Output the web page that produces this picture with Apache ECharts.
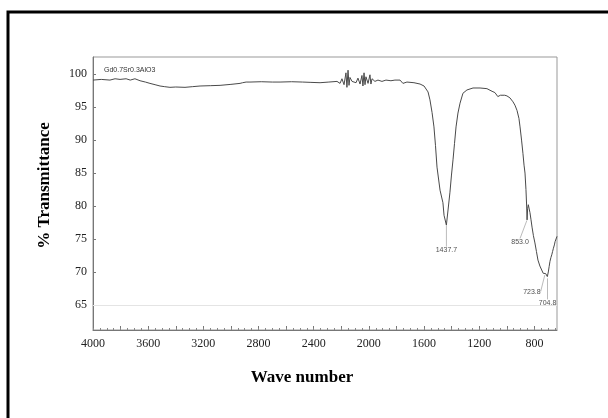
<!DOCTYPE html>
<html>
<head>
<meta charset="utf-8">
<title>IR spectrum</title>
<script src="https://cdn.jsdelivr.net/npm/echarts@6/dist/echarts.min.js"></script>
<style>
  html, body { margin: 0; padding: 0; background: #fff; }
  #chart { width: 608px; height: 418px; }
</style>
</head>
<body>
<div id="chart"></div>
<script>
  // spectrum: wave number (cm-1) / % transmittance
  var waveNumbers = [
    4000, 3940, 3877, 3840, 3804, 3760, 3730, 3696, 3659, 3620, 3587, 3550, 3514, 3480, 3442, 3400,
    3333, 3280, 3224, 3150, 3079, 3000, 2934, 2915, 2905, 2890, 2862, 2780, 2700, 2644, 2560, 2480,
    2420, 2354, 2290, 2231, 2224, 2209, 2195, 2180, 2166, 2159, 2151, 2144, 2137, 2122, 2108, 2093,
    2079, 2064, 2050, 2043, 2035, 2028, 2021, 2006, 1992, 1985, 1977, 1956, 1934, 1905, 1876, 1840,
    1811, 1774, 1760, 1753, 1745, 1724, 1673, 1629, 1600, 1586, 1571, 1557, 1542, 1528, 1517, 1506,
    1484, 1463, 1455, 1438, 1426, 1412, 1401, 1390, 1379, 1368, 1354, 1339, 1318, 1289, 1245, 1194,
    1144, 1107, 1086, 1065, 1057, 1046, 1035, 1015, 999, 977, 955, 941, 926, 912, 904, 893,
    883, 875, 868, 861, 856, 853, 849, 844, 838, 832, 825, 817, 807, 796, 785, 774,
    760, 747, 736, 730, 723.8, 718, 712, 706, 704.8, 702, 699, 693, 687, 680, 674, 668,
    662, 655, 650, 643, 636
  ];
  var transmittance = [
    99.1, 99.2, 99.1, 99.3, 99.2, 99.3, 99.1, 99.3, 99.0, 98.8, 98.6, 98.4, 98.2, 98.1, 98.0, 98.05,
    98.0, 98.1, 98.2, 98.25, 98.3, 98.45, 98.6, 98.7, 99.0, 98.8, 98.8, 98.85, 98.8, 98.8, 98.85, 98.8,
    98.75, 98.7, 98.8, 98.9, 99.0, 98.6, 99.3, 98.4, 100.2, 98.0, 100.6, 98.3, 99.5, 98.9, 99.2, 98.7,
    99.4, 98.5, 99.8, 98.2, 100.2, 98.4, 99.6, 98.6, 99.9, 98.5, 99.3, 98.9, 99.1, 98.9, 99.1, 99.0,
    99.1, 99.1, 98.95, 98.6, 98.8, 98.8, 98.7, 98.5, 98.2, 97.9, 97.3, 96.1, 94.2, 92.0, 89.2, 85.9,
    82.4, 80.5, 78.6, 77.1, 79.4, 82.1, 84.7, 87.0, 89.5, 92.0, 94.1, 95.6, 97.1, 97.6, 97.9, 97.9,
    97.8, 97.4, 97.2, 96.6, 96.4, 96.8, 96.8, 96.8, 96.7, 96.4, 95.8, 95.3, 94.5, 93.3, 92.0, 90.0,
    88.0, 86.2, 85.0, 82.5, 80.0, 77.9, 79.6, 80.2, 79.9, 79.0, 78.0, 76.8, 75.5, 74.4, 73.1, 71.8,
    70.9, 70.3, 69.8, 69.75, 69.6, 69.75, 69.7, 69.3, 69.1, 69.4, 70.0, 70.8, 71.6, 72.2, 72.6, 73.1,
    73.6, 74.1, 74.6, 75.0, 75.4
  ];

  var xTickLabels = [4000, 3600, 3200, 2800, 2400, 2000, 1600, 1200, 800];
  var yTickLabels = [65, 70, 75, 80, 85, 90, 95, 100];

  // picked peaks
  var peakNames = ['1437.7', '853.0', '723.8', '704.8'];
  var peakWave = [1437.7, 853.0, 723.8, 704.8];
  var peakValue = [77.1, 77.9, 69.6, 69.1];

  var sampleName = 'Gd0.7Sr0.3AlO3';

  var seriesData = waveNumbers.map(function (w, i) { return [w, transmittance[i]]; });
  var peakData = peakWave.map(function (w, i) { return { value: [w, peakValue[i]], name: peakNames[i] }; });

  // tick marks on the wave number axis
  var majorTicks = [], minorTicks = [];
  for (var t = 800; t <= 4000; t += 200) majorTicks.push(t);
  for (var m = 650; m <= 4000; m += 50) minorTicks.push(m);

  // where each peak label sits, relative to its point (px)
  var labelShift = [[0, 25], [-7, 22], [-13, 17], [0, 25]];

  var serif = 'Liberation Serif, Times New Roman, serif';

  var dom = echarts.init(document.getElementById('chart'));
  var option = {
    animation: false,
    backgroundColor: '#fff',
    title: {
      text: sampleName,
      left: 99,
      top: 62,
      textStyle: { fontSize: 7, fontWeight: 'normal', color: '#333', fontFamily: 'Arial, Liberation Sans, sans-serif' }
    },
    grid: {
      left: 93,
      right: 51,
      top: 57,
      bottom: 88,
      show: true,
      borderColor: '#999',
      borderWidth: 1
    },
    xAxis: [{
      type: 'value',
      inverse: true,
      min: 636,
      max: 4000,
      name: 'Wave number',
      nameLocation: 'middle',
      nameGap: 39,
      nameTextStyle: { fontFamily: serif, fontWeight: 'bold', fontSize: 17, color: '#000', padding: [0, 46, 0, 0] },
      axisLine: { lineStyle: { color: '#777', width: 1 } },
      axisTick: { customValues: majorTicks, inside: true, length: 4, lineStyle: { color: '#777' } },
      axisLabel: {
        customValues: xTickLabels,
        margin: 8,
        fontFamily: serif,
        fontSize: 12,
        color: '#222',
        formatter: function (v) { return String(v); }
      },
      splitLine: { show: false }
    }, {
      type: 'value',
      inverse: true,
      min: 636,
      max: 4000,
      position: 'bottom',
      axisLine: { show: false },
      axisTick: { customValues: minorTicks, inside: true, length: 2, lineStyle: { color: '#888' } },
      axisLabel: { show: false },
      splitLine: { show: false }
    }],
    yAxis: {
      type: 'value',
      min: 61.2,
      max: 102.6,
      name: '% Transmittance',
      nameLocation: 'middle',
      nameGap: 40,
      nameTextStyle: { fontFamily: serif, fontWeight: 'bold', fontSize: 17, color: '#000', padding: [0, 0, 0, 16] },
      axisLine: { show: true, lineStyle: { color: '#777', width: 1 } },
      axisTick: { customValues: yTickLabels, inside: true, length: 3, lineStyle: { color: '#777' } },
      axisLabel: {
        customValues: yTickLabels,
        margin: 6,
        fontFamily: serif,
        fontSize: 12,
        color: '#222',
        formatter: function (v) { return String(v); }
      },
      splitLine: { show: false }
    },
    series: [{
      name: 'spectrum',
      type: 'line',
      data: seriesData,
      showSymbol: false,
      symbol: 'none',
      lineStyle: { color: '#4a4a4a', width: 1 },
      markLine: {
        silent: true,
        symbol: 'none',
        label: { show: false },
        lineStyle: { color: '#e4e4e4', width: 1, type: 'solid' },
        data: [{ yAxis: 65 }]
      }
    }, {
      name: 'peaks',
      type: 'scatter',
      data: peakData,
      symbolSize: 1,
      itemStyle: { color: 'rgba(0,0,0,0)' },
      label: {
        show: true,
        position: 'inside',
        formatter: '{b}',
        fontSize: 7,
        color: '#222',
        fontFamily: 'Arial, Liberation Sans, sans-serif'
      },
      labelLine: { show: true, lineStyle: { color: '#bbb', width: 1 } },
      labelLayout: function (params) {
        var s = labelShift[params.dataIndex];
        return { dx: s[0], dy: s[1] };
      }
    }],
    graphic: [{
      // frame around the whole figure
      type: 'rect',
      shape: { x: 8, y: 12, width: 700, height: 500 },
      style: { fill: 'none', stroke: '#000', lineWidth: 3 },
      silent: true
    }]
  };
  dom.setOption(option);
</script>
</body>
</html>
